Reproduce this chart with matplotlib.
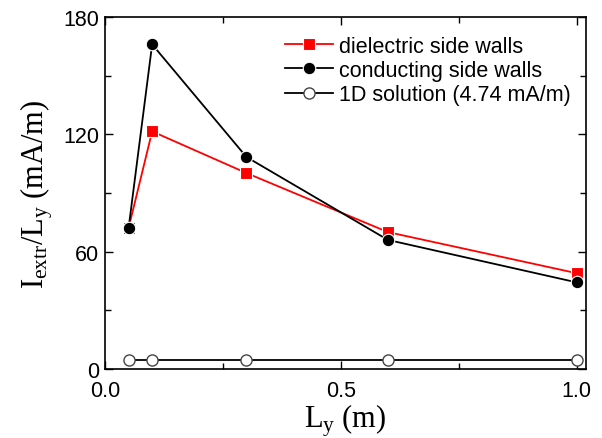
import matplotlib
matplotlib.use("Agg")
import matplotlib.pyplot as plt
from matplotlib.ticker import MultipleLocator

plt.rcParams.update({
    'font.family': 'Liberation Sans',
    'mathtext.fontset': 'custom',
    'mathtext.rm': 'Liberation Serif',
    'mathtext.it': 'Liberation Serif:italic',
    'xtick.direction': 'in',
    'ytick.direction': 'in',
    'xtick.top': True,
    'ytick.right': True,
})

# data
Ly = [0.05, 0.1, 0.3, 0.6, 1.0]
dielectric = [72, 121.5, 100.2, 70, 49]
conducting = [72, 166, 108.4, 66, 44.3]
solution_1d = [4.74, 4.74, 4.74, 4.74, 4.74]

fig = plt.figure(figsize=(6.02, 4.39), dpi=100)
ax = fig.add_axes([0.1744, 0.1572, 0.799, 0.8018])

l_diel, = ax.plot(Ly, dielectric, color='red', lw=1.3, marker='s', ms=8,
                  mfc='red', mec='white', mew=0.8, label='dielectric side walls', zorder=3)
l_cond, = ax.plot(Ly, conducting, color='black', lw=1.3, marker='o', ms=9,
                  mfc='black', mec='white', mew=0.8, label='conducting side walls', zorder=4)
l_1d, = ax.plot(Ly, solution_1d, color='black', lw=1.3, marker='o', ms=8,
                mfc='white', mec='#444444', mew=1.0, label='1D solution (4.74 mA/m)', zorder=2)

ax.set_xlim(0, 1.02)
ax.set_ylim(0, 180)
ax.xaxis.set_major_locator(MultipleLocator(0.5))
ax.xaxis.set_minor_locator(MultipleLocator(0.25))
ax.yaxis.set_major_locator(MultipleLocator(60))
ax.yaxis.set_minor_locator(MultipleLocator(30))
ax.xaxis.set_major_formatter(matplotlib.ticker.FormatStrFormatter('%.1f'))
ax.tick_params(which='major', length=6, width=1, labelsize=15.5)
ax.tick_params(axis='x', which='major', pad=8)
ax.tick_params(axis='y', which='major', pad=4)
ax.tick_params(which='minor', length=4, width=1)
for s in ax.spines.values():
    s.set_linewidth(1.2)

ax.set_xlabel(r'$\mathrm{L_y\ (m)}$', fontsize=22, labelpad=0)
ax.set_ylabel(r'$\mathrm{I_{extr}/L_y\ (mA/m)}$', fontsize=22, labelpad=6)

ax.legend([l_diel, l_cond, l_1d], [l_diel.get_label(), l_cond.get_label(), l_1d.get_label()],
          loc='upper right', bbox_to_anchor=(1.0, 0.99),
          frameon=False, fontsize=15.5, handlelength=2.2, handletextpad=0.3,
          labelspacing=0.15, borderaxespad=0.3)

fig.savefig('out.png', dpi=100)
